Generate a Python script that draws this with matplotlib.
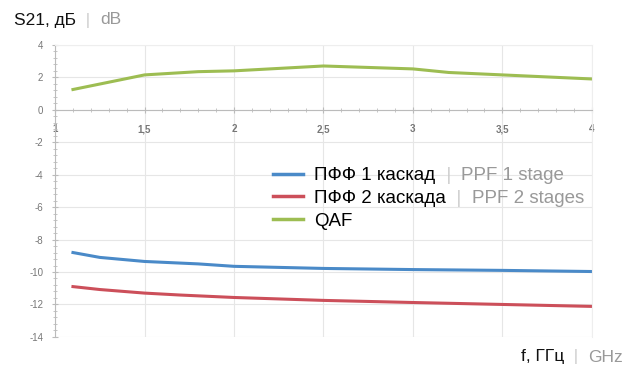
import matplotlib
matplotlib.use("Agg")
import matplotlib.pyplot as plt
from matplotlib.ticker import MultipleLocator, FuncFormatter
from matplotlib.lines import Line2D

plt.rcParams['font.family'] = ['Liberation Sans', 'DejaVu Sans']

# frequency, GHz
freq_qaf = [1.1, 1.5, 1.8, 2.0, 2.5, 3.0, 3.2, 3.5, 4.0]
s21_qaf = [1.25, 2.15, 2.35, 2.4, 2.7, 2.52, 2.3, 2.15, 1.9]

freq_ppf = [1.1, 1.25, 1.5, 1.7, 1.8, 2.0, 2.5, 3.0, 3.5, 4.0]
s21_ppf1 = [-8.8, -9.1, -9.35, -9.45, -9.5, -9.65, -9.78, -9.85, -9.9, -9.97]
s21_ppf2 = [-10.9, -11.08, -11.3, -11.42, -11.47, -11.57, -11.75, -11.88, -12.0, -12.12]

labels_ru = ["ПФФ 1 каскад", "ПФФ 2 каскада", "QAF"]
labels_en = ["PPF 1 stage", "PPF 2 stages", ""]
colors = ["#4a8ac8", "#cc4f5a", "#9dbd52"]

fig = plt.figure(figsize=(6.33, 3.65), dpi=100)
ax = fig.add_axes([0.087, 0.077, 0.848, 0.80])

ax.plot(freq_ppf, s21_ppf1, color=colors[0], lw=2.2)
ax.plot(freq_ppf, s21_ppf2, color=colors[1], lw=2.2)
ax.plot(freq_qaf, s21_qaf, color=colors[2], lw=2.2)

ax.set_xlim(1, 4)
ax.set_ylim(-14, 4)
ax.xaxis.set_major_locator(MultipleLocator(0.5))
ax.xaxis.set_minor_locator(MultipleLocator(0.1))
ax.yaxis.set_major_locator(MultipleLocator(2))
ax.yaxis.set_minor_locator(MultipleLocator(0.4))
ax.xaxis.set_major_formatter(FuncFormatter(lambda v, p: f"{v:g}".replace(".", ",")))
ax.yaxis.set_major_formatter(FuncFormatter(lambda v, p: f"{v:g}"))

ax.grid(True, which="major", color="#e6e6e6", lw=0.8)
ax.set_axisbelow(True)
for side in ["top", "right"]:
    ax.spines[side].set_color("#eeeeee")
ax.spines["bottom"].set_position(("data", 0))
ax.spines["bottom"].set_color("#bbbbbb")
ax.spines["left"].set_color("#bbbbbb")
ax.tick_params(which="both", direction="inout", color="#bbbbbb")
ax.tick_params(which="major", length=5, labelsize=7, labelcolor="#777777")
ax.tick_params(which="minor", length=3)
ax.tick_params(axis="x", pad=8)
ax.tick_params(axis="y", pad=6)
for t in ax.get_xticklabels():
    t.set_fontweight("bold")

W, H = fig.bbox.width, fig.bbox.height
handles = [Line2D([], [], color=c, lw=2.5) for c in colors]
leg = ax.legend(handles, labels_ru, loc="upper left",
                bbox_to_anchor=(273 / W, 1 - 167 / H), bbox_transform=fig.transFigure,
                frameon=False, fontsize=13.5, handlelength=1.6, handletextpad=0.6,
                labelspacing=0.3, borderaxespad=0, borderpad=0)

fig.canvas.draw()
renderer = fig.canvas.get_renderer()


def pieces(x, y, parts, size=12.5, ha="left"):
    # draws colored text parts one after another, x,y in pixels
    objs = []
    for s, c in parts:
        objs.append(fig.text(0, 0, s, color=c, fontsize=size, va="center",
                             transform=None))
    widths = [o.get_window_extent(renderer).width for o in objs]
    total = sum(widths)
    cur = x - total if ha == "right" else x
    for o, w in zip(objs, widths):
        o.set_position((cur, y))
        cur += w


for txt, en in zip(leg.get_texts(), labels_en):
    if not en:
        continue
    bb = txt.get_window_extent(renderer)
    pieces(bb.x1, (bb.y0 + bb.y1) / 2, [("  |  ", "#cccccc"), (en, "#999999")], size=13.5)

pieces(14, H - 20, [("S21, дБ", "#111111"), ("  |  ", "#cccccc"), ("dB", "#999999")])
pieces(623, H - 357, [("f, ГГц", "#111111"), ("  |  ", "#cccccc"), ("GHz", "#999999")], ha="right")

fig.savefig("out.png", dpi=100)
